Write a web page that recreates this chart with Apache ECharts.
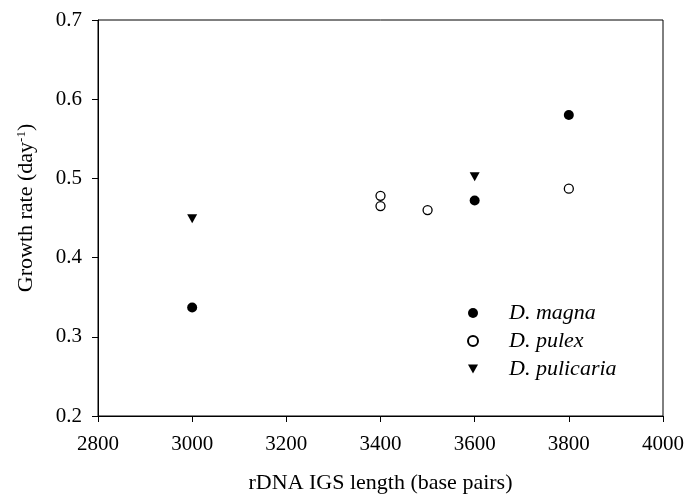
<!DOCTYPE html>
<html>
<head>
<meta charset="utf-8">
<script src="https://cdn.jsdelivr.net/npm/echarts@6/dist/echarts.min.js"></script>
<style>
  html, body { margin: 0; padding: 0; background: #fff; }
  #growth-chart { width: 688px; height: 499px; }
</style>
</head>
<body>
<div id="growth-chart"></div>
<script>
// data: [IGS length, growth rate]
var magna = [[3000, 0.337], [3600, 0.472], [3800, 0.580]];
var pulex = [[3400, 0.478], [3400, 0.465], [3500, 0.460], [3800, 0.487]];
var pulicaria = [[3000, 0.449], [3600, 0.502]];
var xTicks = [2800, 3000, 3200, 3400, 3600, 3800, 4000];
var yTicks = [0.2, 0.3, 0.4, 0.5, 0.6, 0.7];

var font = 'Liberation Serif';
var downTriangle = 'path://M0,0L10,0L5,9Z';

var chart = echarts.init(document.getElementById('growth-chart'));
var option = {
  backgroundColor: '#fff',
  animation: false,
  grid: {
    left: 98,
    right: 25,
    top: 20,
    bottom: 79,
    show: true,
    borderColor: '#000',
    borderWidth: 1
  },
  legend: {
    orient: 'vertical',
    left: 462,
    top: 297,
    itemWidth: 10,
    itemHeight: 10,
    itemGap: 6,
    textStyle: {
      fontFamily: font,
      fontStyle: 'italic',
      fontSize: 22,
      lineHeight: 22,
      color: '#000',
      padding: [0, 0, 0, 26]
    },
    data: ['D. magna', 'D. pulex', 'D. pulicaria']
  },
  xAxis: {
    type: 'value',
    min: xTicks[0],
    max: xTicks[xTicks.length - 1],
    interval: 200,
    name: 'rDNA IGS length (base pairs)',
    nameLocation: 'middle',
    nameGap: 56,
    nameTextStyle: { fontFamily: font, fontSize: 22, color: '#000' },
    axisLine: { lineStyle: { color: '#000', width: 1 } },
    axisTick: { show: true, length: 6, inside: false, lineStyle: { color: '#000' } },
    axisLabel: {
      fontFamily: font, fontSize: 21, color: '#000', margin: 18,
      formatter: function (v) { return String(v); }
    },
    splitLine: { show: false }
  },
  yAxis: {
    type: 'value',
    min: yTicks[0],
    max: yTicks[yTicks.length - 1],
    interval: 0.1,
    name: '{t|Growth rate (day}{s|-1}{t|)}',
    nameLocation: 'middle',
    nameGap: 60,
    nameTextStyle: {
      padding: [0, 0, 0, 20], // nudges the title up a little, as in the figure
      rich: {
        t: { fontFamily: font, fontSize: 22, color: '#000' },
        s: { fontFamily: font, fontSize: 13, color: '#000', verticalAlign: 'top', padding: [0, 0, 10, 0] }
      }
    },
    axisLine: { show: true, lineStyle: { color: '#000', width: 1 } },
    axisTick: { show: true, length: 6, inside: false, lineStyle: { color: '#000' } },
    axisLabel: {
      fontFamily: font, fontSize: 21, color: '#000', margin: 16,
      formatter: function (v) { return v.toFixed(1); }
    },
    splitLine: { show: false }
  },
  series: [
    {
      name: 'D. magna',
      type: 'scatter',
      symbol: 'circle',
      symbolSize: 10,
      itemStyle: { color: '#000', opacity: 1 },
      data: magna
    },
    {
      name: 'D. pulex',
      type: 'scatter',
      symbol: 'circle',
      symbolSize: 9,
      itemStyle: { color: '#fff', borderColor: '#000', borderWidth: 1.3, opacity: 1 },
      data: pulex
    },
    {
      name: 'D. pulicaria',
      type: 'scatter',
      symbol: downTriangle,
      symbolSize: [10, 9],
      itemStyle: { color: '#000', opacity: 1 },
      data: pulicaria
    }
  ]
};
chart.setOption(option);
</script>
</body>
</html>
